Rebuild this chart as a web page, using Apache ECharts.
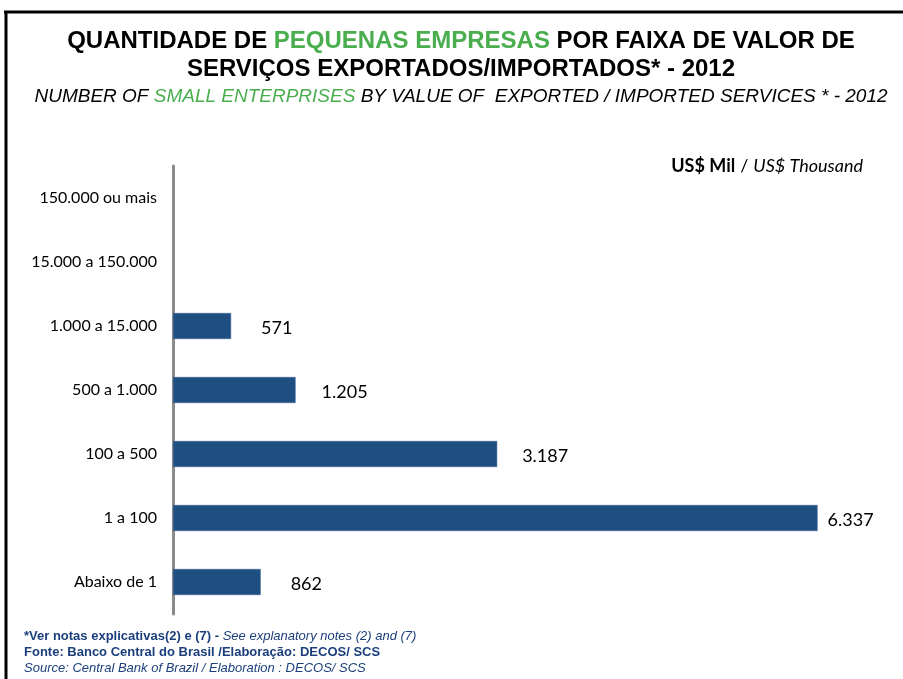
<!DOCTYPE html>
<html><head><meta charset="utf-8">
<script src="https://cdn.jsdelivr.net/npm/echarts@6/dist/echarts.min.js"></script>
<style>html,body{margin:0;padding:0;background:#fff}#c{width:903px;height:679px}</style>
</head><body><div id="c"></div>
<script>
var categories = ['150.000 ou mais','15.000 a 150.000','1.000 a 15.000','500 a 1.000','100 a 500','1 a 100','Abaixo de 1'];
var values = [null, null, 571, 1205, 3187, 6337, 862];
var labelGaps = [25, 25, 30, 26, 25, 10, 30];

function fmt(v){ return String(v).replace(/\B(?=(\d{3})+(?!\d))/g, '.'); }

var chart = echarts.init(document.getElementById('c'));
var navy = '#1c3f7c';
chart.setOption({
  animation: false,
  title: [{
    left: 461, top: 27, textAlign: 'center', padding: 0,
    text: '{k|QUANTIDADE DE }{g|PEQUENAS EMPRESAS}{k| POR FAIXA DE VALOR DE}\n{k|SERVIÇOS EXPORTADOS/IMPORTADOS* - 2012}',
    textStyle: { fontWeight: 'bold', rich: {
      k: { fontFamily: 'Liberation Sans', fontWeight: 'bold', fontSize: 24, color: '#000', lineHeight: 28 },
      g: { fontFamily: 'Liberation Sans', fontWeight: 'bold', fontSize: 24, color: '#4aae4f', lineHeight: 28 }
    }}
  },{
    left: 461, top: 87, textAlign: 'center', padding: 0,
    text: '{k|NUMBER OF }{g|SMALL ENTERPRISES}{k| BY VALUE OF  EXPORTED / IMPORTED SERVICES * - 2012}',
    textStyle: { fontWeight: 'normal', rich: {
      k: { fontFamily: 'Liberation Sans', fontStyle: 'italic', fontWeight: 'normal', fontSize: 19, color: '#000' },
      g: { fontFamily: 'Liberation Sans', fontStyle: 'italic', fontWeight: 'normal', fontSize: 19, color: '#4aae4f' }
    }}
  },{
    right: 40, top: 157, padding: 0,
    text: '{b|US$ Mil} {n|/} {i|US$ Thousand}',
    textStyle: { fontWeight: 'normal', rich: {
      b: { fontFamily: 'Lato', fontWeight: 'bold', fontSize: 18, color: '#000' },
      n: { fontFamily: 'Lato', fontWeight: 'normal', fontSize: 18, color: '#000' },
      i: { fontFamily: 'Lato', fontStyle: 'italic', fontWeight: 'normal', fontSize: 18, color: '#000' }
    }}
  },{
    left: 24, top: 628, padding: 0,
    text: '{b|*Ver notas explicativas(2) e (7) - }{i|See explanatory notes (2) and (7)}\n{b|Fonte: Banco Central do Brasil /Elaboração: DECOS/ SCS}\n{i|Source: Central Bank of Brazil / Elaboration : DECOS/ SCS}',
    textStyle: { fontWeight: 'normal', rich: {
      b: { fontFamily: 'Liberation Sans', fontWeight: 'bold', fontSize: 13, color: navy, lineHeight: 16 },
      i: { fontFamily: 'Liberation Sans', fontStyle: 'italic', fontWeight: 'normal', fontSize: 13, color: navy, lineHeight: 16 }
    }}
  }],
  graphic: [
    { type: 'line', shape: { x1: 4, y1: 12, x2: 903, y2: 12 }, style: { stroke: '#000', lineWidth: 3 } },
    { type: 'line', shape: { x1: 6, y1: 11, x2: 6, y2: 679 }, style: { stroke: '#000', lineWidth: 3 } }
  ],
  grid: { left: 173, top: 166, width: 712, height: 448, containLabel: false },
  xAxis: { type: 'value', min: 0, max: 7000, show: false },
  yAxis: {
    type: 'category', data: categories, inverse: true,
    axisLine: { show: true, lineStyle: { color: '#8a8a8a', width: 3 } },
    axisTick: { show: false },
    axisLabel: { fontFamily: 'Lato', fontSize: 16, color: '#000', margin: 16 }
  },
  series: [{
    type: 'bar', barWidth: 26,
    data: values.map(function(v, i){
      return { value: v, label: { distance: labelGaps[i] } };
    }),
    itemStyle: { color: '#1f4e80', borderColor: '#3a6699', borderWidth: 0.5 },
    label: {
      show: true, position: 'right', fontFamily: 'Lato', fontSize: 18, color: '#000',
      offset: [0, 2],
      formatter: function(p){ return p.value == null ? '' : fmt(p.value); }
    }
  }]
});
</script></body></html>
